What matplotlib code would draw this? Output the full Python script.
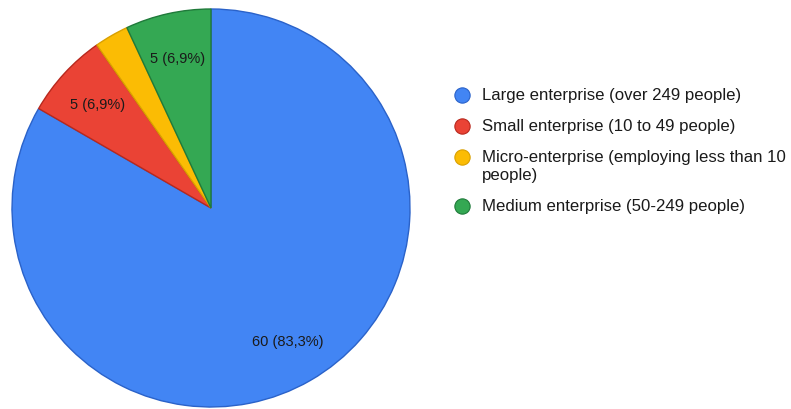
import matplotlib.pyplot as plt
from matplotlib.lines import Line2D

plt.rcParams['font.family'] = ['Liberation Sans', 'DejaVu Sans']

# data
categories = ["Large enterprise (over 249 people)",
              "Small enterprise (10 to 49 people)",
              "Micro-enterprise (employing less than 10\npeople)",
              "Medium enterprise (50-249 people)"]
counts = [60, 5, 2, 5]
colors = ["#4285F4", "#EA4335", "#FBBC04", "#34A853"]
edges = ["#2a62c9", "#b8281d", "#d9a000", "#1f7a3a"]

total = sum(counts)

def label_fmt(pct):
    v = int(round(pct * total / 100.0))
    if pct < 5:
        return ""
    return ("%d (%.1f%%)" % (v, pct)).replace(".", ",")

fig = plt.figure(figsize=(7.91, 4.10), dpi=100)
ax = fig.add_axes([12 / 791, 2 / 410, 398 / 791, 398 / 410])

wedges, texts, autotexts = ax.pie(counts, colors=colors, startangle=90, counterclock=False,
                                  autopct=label_fmt, pctdistance=0.77,
                                  wedgeprops=dict(linewidth=1.0),
                                  textprops=dict(color="#1a1a1a", fontsize=10.5))
for w, e in zip(wedges, edges):
    w.set_edgecolor(e)
ax.set_xlim(-1.0, 1.0)
ax.set_ylim(-1.0, 1.0)
ax.set_aspect("equal")

# legend drawn by hand
ys = [96, 127, 158, 207]
for lab, c, e, y in zip(categories, colors, edges, ys):
    fig.add_artist(Line2D([462 / 791], [1 - y / 410], transform=fig.transFigure,
                          marker="o", markersize=11, color=c, markeredgecolor=e,
                          markeredgewidth=0.8, linestyle="none"))
    fig.text(482 / 791, 1 - (y - 8) / 410, lab, fontsize=12.1, color="#1a1a1a",
             ha="left", va="top", linespacing=1.22)

fig.savefig("out.png", dpi=100)
